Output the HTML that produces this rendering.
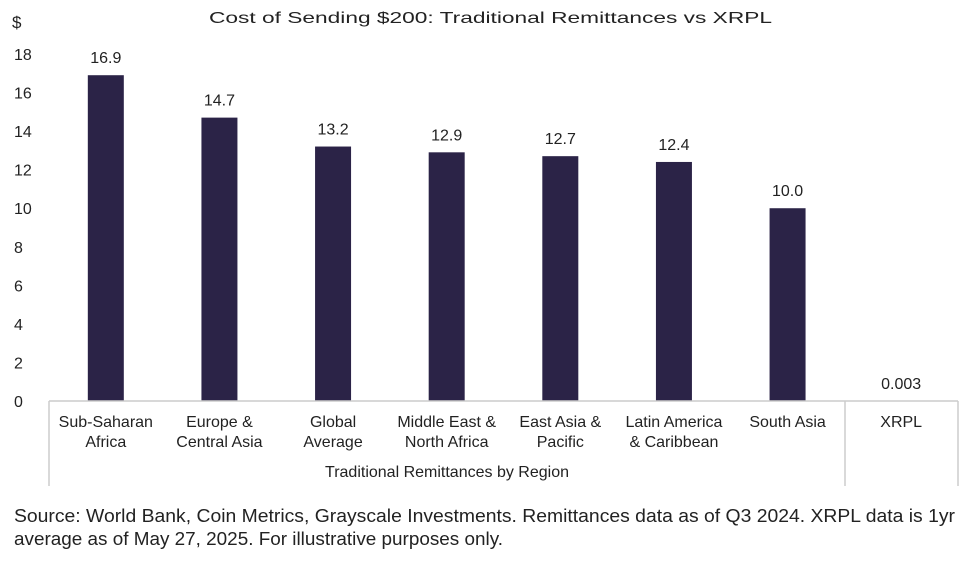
<!DOCTYPE html>
<html><head><meta charset="utf-8"><style>
body{margin:0;background:#fff;width:975px;height:557px;overflow:hidden;font-family:"Liberation Sans",sans-serif;color:#222}
svg text{font-family:"Liberation Sans",sans-serif;fill:#222}
</style></head><body>
<svg id="chart" width="975" height="557" xmlns="http://www.w3.org/2000/svg">
<text x="209" y="23" font-size="16" textLength="563" lengthAdjust="spacingAndGlyphs">Cost of Sending $200: Traditional Remittances vs XRPL</text>
<text x="12" y="28" font-size="17">$</text>
<g id="yticks"></g><g id="bars"></g><g id="xlabels"></g>
<line x1="49" y1="401" x2="958" y2="401" stroke="#ccc" stroke-width="1.5"/>
<line x1="49" y1="401" x2="49" y2="486" stroke="#ccc" stroke-width="1.5"/>
<line x1="845" y1="401" x2="845" y2="486" stroke="#ccc" stroke-width="1.5"/>
<line x1="958" y1="401" x2="958" y2="486" stroke="#ccc" stroke-width="1.5"/>
<text x="447" y="477" font-size="16" text-anchor="middle">Traditional Remittances by Region</text>
<text x="14" y="522" font-size="18" textLength="941" lengthAdjust="spacingAndGlyphs">Source: World Bank, Coin Metrics, Grayscale Investments. Remittances data as of Q3 2024. XRPL data is 1yr</text>
<text x="14" y="545" font-size="18" textLength="489" lengthAdjust="spacingAndGlyphs">average as of May 27, 2025. For illustrative purposes only.</text>
</svg>
<script>
const categories=[["Sub-Saharan","Africa"],["Europe &","Central Asia"],["Global","Average"],["Middle East &","North Africa"],["East Asia &","Pacific"],["Latin America","& Caribbean"],["South Asia"],["XRPL"]];
const values=[16.9,14.7,13.2,12.9,12.7,12.4,10.0,0.003];
const valueLabels=["16.9","14.7","13.2","12.9","12.7","12.4","10.0","0.003"];
const yTicks=[0,2,4,6,8,10,12,14,16,18];
const NS="http://www.w3.org/2000/svg";
const y=v=>401-v*(401-54)/18;
const x=i=>49+(958-49)/8*(i+0.5);
function mk(t,a,p){const e=document.createElementNS(NS,t);for(const k in a)e.setAttribute(k,a[k]);p.appendChild(e);return e;}
const yt=document.getElementById('yticks'),bg=document.getElementById('bars'),xl=document.getElementById('xlabels');
yTicks.forEach(v=>{const t=mk('text',{x:14,y:y(v)+6,'font-size':16},yt);t.textContent=v;

});
values.forEach((v,i)=>{
const r=mk('rect',{x:x(i)-18,y:y(v),width:36,height:401-y(v),fill:'#2b2347'},bg);


const t=mk('text',{x:x(i),y:y(v)-12,'font-size':16,'text-anchor':'middle'},bg);t.textContent=valueLabels[i];


categories[i].forEach((s,j)=>{const c=mk('text',{x:x(i),y:427+j*20,'font-size':16,'text-anchor':'middle'},xl);c.textContent=s;

});
});
</script>
</body></html>
